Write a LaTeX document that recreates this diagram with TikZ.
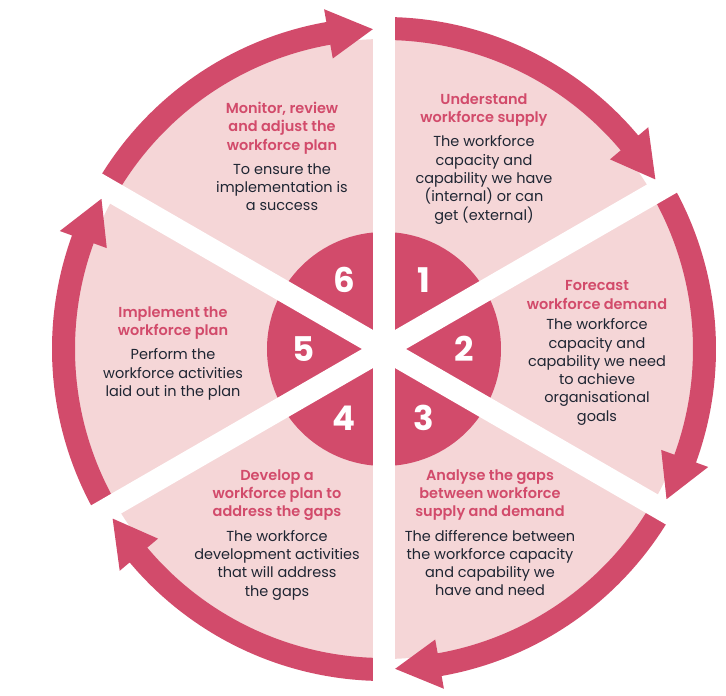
\documentclass[tikz,border=0pt]{standalone}
\usepackage{fontspec}
\setmainfont{Poppins}
\newfontfamily\semifont{Poppins SemiBold}
\usepackage{tikz}
\usetikzlibrary{positioning, calc}
\definecolor{rosedark}{HTML}{D24B6B}
\definecolor{rosepale}{HTML}{F5D6D7}
\definecolor{inkdark}{HTML}{1F2633}
\tikzset{
  band/.style={fill=rosedark},
  gapline/.style={draw=white, line width=22},
  stagetitle/.style={align=center, text=rosedark, inner sep=0, font=\fontsize{14.5}{18.3}\semifont},
  stagetext/.style={align=center, text=inkdark, inner sep=0, font=\fontsize{14.5}{18.3}\selectfont},
  stagenum/.style={text=white, inner sep=0, font=\fontsize{34}{34}\selectfont\bfseries}
}

\begin{document}
\begin{tikzpicture}[x=1pt, y=1pt, node distance=9pt]
\useasboundingbox (-384,-347) rectangle (342,349);
\coordinate (c) at (0,0);
\fill [rosepale] (c) circle [radius=310];
\fill [rosedark] (c) circle [radius=117];
\foreach \a in {90,30,-30,-90,-150,-210} {
  \fill [band] (\a:332) arc [start angle=\a, end angle=\a-50, radius=332] -- (\a-50:345) -- (\a-58:320) -- (\a-50:295) -- (\a-50:309) arc [start angle=\a-50, end angle=\a, radius=309] -- cycle;
}
\foreach \a in {90,30,150} \draw [gapline] (\a:360) -- (\a+180:360);
\foreach \n/\a in {1/60, 2/0, 3/-60, 4/-120, 5/180, 6/120} \node [stagenum] (n\n) at (\a:80) {\n};

\node [stagetitle] (t1) at (100,239) {Understand\\workforce supply};
\node [stagetext, below=of t1] (b1) {The workforce\\capacity and\\capability we have\\(internal) or can\\get (external)};
\node [stagetitle] (t2) at (213,54) {Forecast\\workforce demand};
\node [stagetext, below=of t2] (b2) {The workforce\\capacity and\\capability we need\\to achieve\\organisational\\goals};
\node [stagetitle] (t3) at (106,-146) {Analyse the gaps\\between workforce\\supply and demand};
\node [stagetext, below=of t3] (b3) {The difference between\\the workforce capacity\\and capability we\\have and need};
\node [stagetitle] (t4) at (-107,-146) {Develop a\\workforce plan to\\address the gaps};
\node [stagetext, below=of t4] (b4) {The workforce\\development activities\\that will address\\the gaps};
\node [stagetitle] (t5) at (-211,26) {Implement the\\workforce plan};
\node [stagetext, below=of t5] (b5) {Perform the\\workforce activities\\laid out in the plan};
\node [stagetitle] (t6) at (-102,221) {Monitor, review\\and adjust the\\workforce plan};
\node [stagetext, below=of t6] (b6) {To ensure the\\implementation is\\a success};
\end{tikzpicture}
\end{document}
